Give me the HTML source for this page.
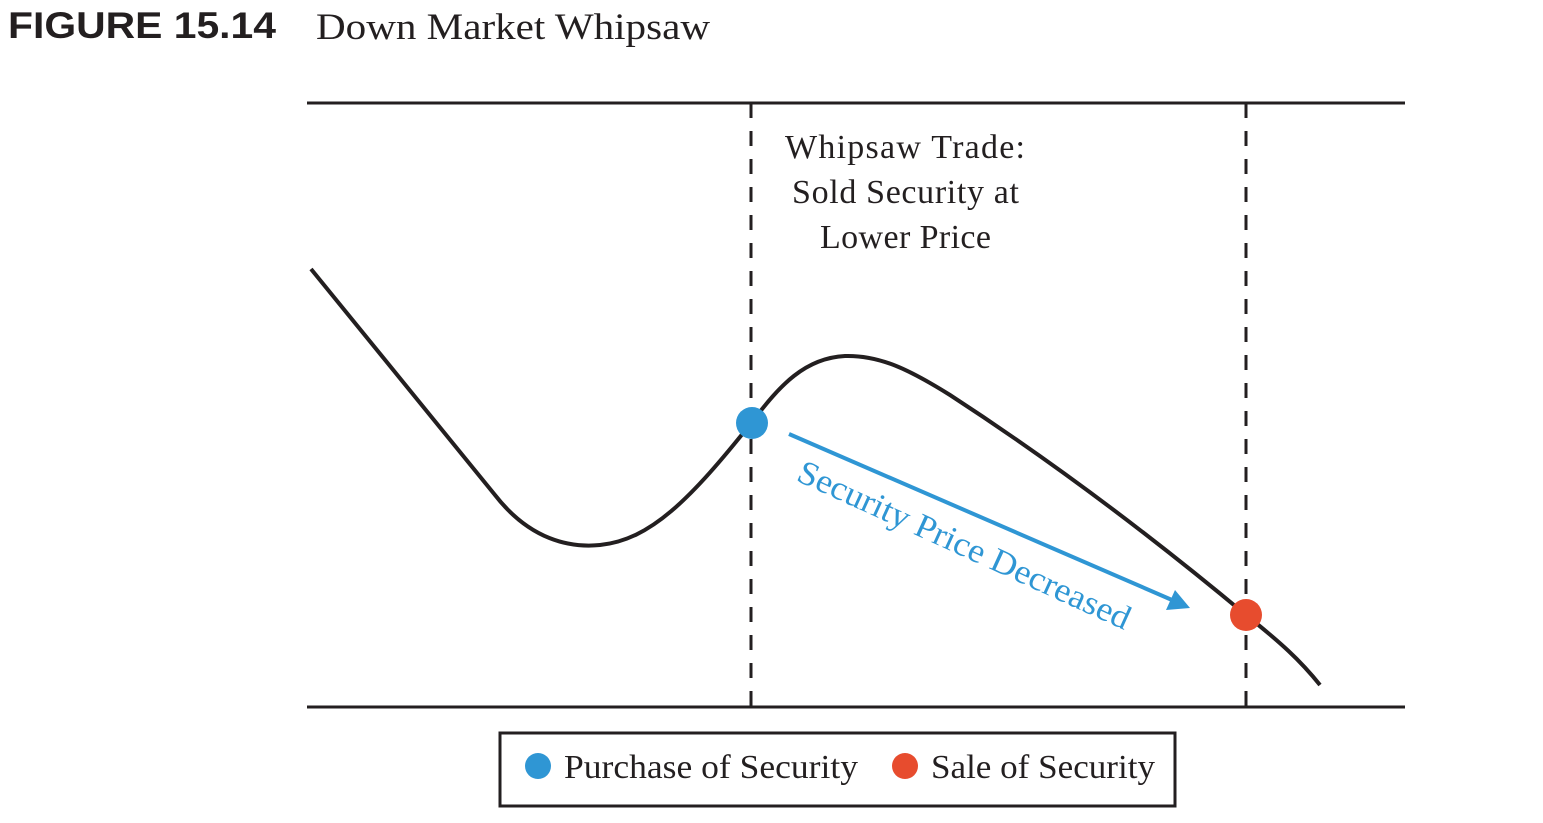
<!DOCTYPE html>
<html><head><meta charset="utf-8"><style>
html,body{margin:0;padding:0;background:#fff;}
svg{display:block;}
</style></head><body>
<svg width="1543" height="823" viewBox="0 0 1543 823" xmlns="http://www.w3.org/2000/svg">
<text x="8" y="38" font-family="Liberation Sans, sans-serif" font-weight="bold" font-size="37" fill="#231f20" textLength="268" lengthAdjust="spacingAndGlyphs">FIGURE 15.14</text>
<text x="316" y="39" font-family="Liberation Serif, serif" font-size="37" fill="#231f20" textLength="394" lengthAdjust="spacingAndGlyphs">Down Market Whipsaw</text>
<line x1="307" y1="103" x2="1405" y2="103" stroke="#231f20" stroke-width="3"/>
<line x1="307" y1="707" x2="1405" y2="707" stroke="#231f20" stroke-width="3"/>
<line x1="751" y1="103" x2="751" y2="707" stroke="#231f20" stroke-width="3" stroke-dasharray="15,13"/>
<line x1="1246" y1="103" x2="1246" y2="707" stroke="#231f20" stroke-width="3" stroke-dasharray="15,13"/>
<g font-family="Liberation Serif, serif" font-size="34" fill="#231f20" lengthAdjust="spacingAndGlyphs">
<text x="785" y="158" textLength="240">Whipsaw Trade:</text>
<text x="792" y="203" textLength="227">Sold Security at</text>
<text x="820" y="248" textLength="171">Lower Price</text>
</g>
<path d="M311,269 L495,495 C530,540 570,548 600,545 C650,540 690,500 752,422 C780,385 805,358 845,356 C880,355 910,370 950,395 C1050,460 1150,535 1246,615 C1280,642 1300,660 1320,685" fill="none" stroke="#231f20" stroke-width="4"/>
<circle cx="752" cy="423" r="16" fill="#2f96d4"/>
<circle cx="1246" cy="615" r="16" fill="#e74c2e"/>
<line x1="789" y1="434" x2="1172" y2="600" stroke="#2f96d4" stroke-width="4"/>
<polygon points="1190,608 1166,610 1175,590" fill="#2f96d4"/>
<text x="0" y="0" transform="translate(795,480) rotate(24.5)" font-family="Liberation Serif, serif" font-size="34" fill="#2f96d4" textLength="362" lengthAdjust="spacingAndGlyphs">Security Price Decreased</text>
<rect x="500" y="733" width="675" height="73" fill="none" stroke="#231f20" stroke-width="3"/>
<circle cx="538" cy="766" r="13" fill="#2f96d4"/>
<text x="564" y="778" font-family="Liberation Serif, serif" font-size="34" fill="#231f20" textLength="294" lengthAdjust="spacingAndGlyphs">Purchase of Security</text>
<circle cx="905" cy="766" r="13" fill="#e74c2e"/>
<text x="931" y="778" font-family="Liberation Serif, serif" font-size="34" fill="#231f20" textLength="224" lengthAdjust="spacingAndGlyphs">Sale of Security</text>
</svg>
</body></html>
